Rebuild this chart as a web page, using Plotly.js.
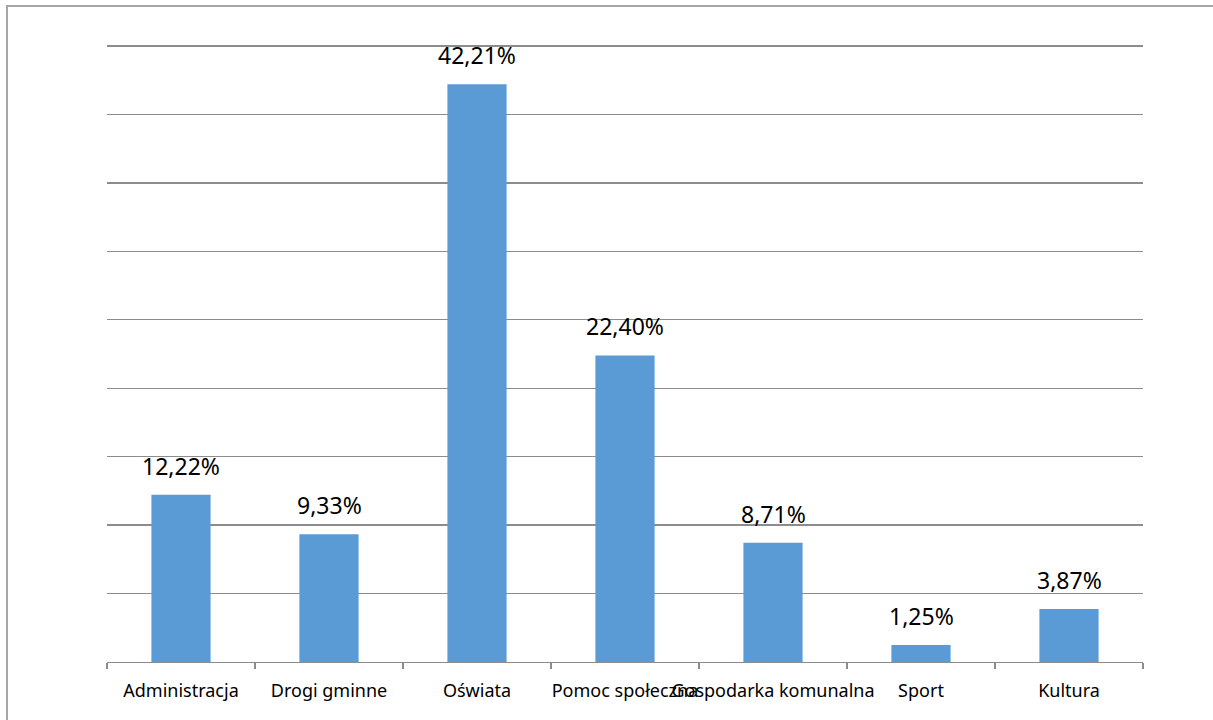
<!DOCTYPE html>
<html>
<head>
<meta charset="utf-8">
<script src="https://cdn.plot.ly/plotly-3.0.1.min.js"></script>
<style>
html,body{margin:0;padding:0;background:#fff;overflow:hidden;}
#frame{position:absolute;left:6px;top:5px;width:1220px;height:730px;border:2px solid #a6a6a6;box-sizing:border-box;}
#chart{position:absolute;left:0;top:0;width:1213px;height:720px;}
</style>
</head>
<body>
<div id="chart"></div>
<div id="frame"></div>
<script>
const categories = ["Administracja", "Drogi gminne", "Oświata", "Pomoc społeczna", "Gospodarka komunalna", "Sport", "Kultura"];
const shares = [12.22, 9.33, 42.21, 22.40, 8.71, 1.25, 3.87];
const shareLabels = shares.map(v => v.toFixed(2).replace('.', ',') + '%');

const FONT = 'Noto Sans, sans-serif';

const trace = {
  type: 'bar',
  x: categories,
  y: shares,
  marker: {color: '#5b9bd5'},
  hoverinfo: 'none'
};

const annotations = categories.map((c, i) => ({
  x: c, y: shares[i], xref: 'x', yref: 'y',
  text: shareLabels[i], showarrow: false,
  yanchor: 'bottom', yshift: 11,
  font: {family: FONT, size: 23, color: '#000'}
}));

const layout = {
  width: 1213, height: 720,
  margin: {l: 107, r: 70, t: 44, b: 58},
  paper_bgcolor: '#fff',
  plot_bgcolor: '#fff',
  bargap: 0.6,
  showlegend: false,
  font: {family: FONT, color: '#000'},
  annotations: annotations,
  xaxis: {
    type: 'category',
    tickangle: 0,
    showline: true, linecolor: '#8c8c8c', linewidth: 1.3,
    ticks: 'outside', tickson: 'boundaries', ticklen: 6, tickcolor: '#8c8c8c', tickwidth: 1.3,
    ticklabelstandoff: 12,
    tickfont: {family: FONT, size: 18, color: '#000'},
    showgrid: false
  },
  yaxis: {
    range: [0, 45.15], dtick: 5,
    showticklabels: false,
    showgrid: true, gridcolor: '#8c8c8c', gridwidth: 1.3,
    zeroline: false, showline: false, ticks: ''
  }
};

Plotly.newPlot('chart', [trace], layout, {displayModeBar: false, staticPlot: true});
</script>
</body>
</html>
